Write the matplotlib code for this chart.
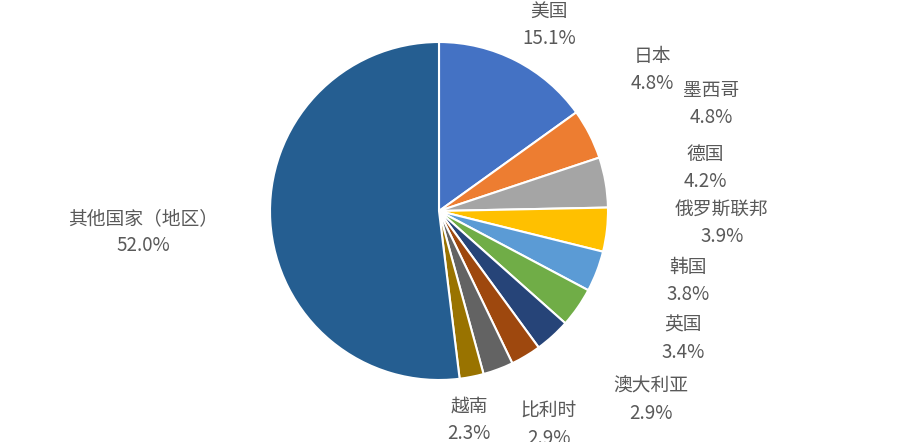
import matplotlib
matplotlib.use('Agg')
import matplotlib.pyplot as plt

plt.rcParams['font.family'] = ['Noto Sans CJK SC', 'DejaVu Sans']

# data (share, %)
countries = ['美国', '日本', '墨西哥', '德国', '俄罗斯联邦', '韩国', '英国',
             '澳大利亚', '比利时', '越南', '其他国家（地区）']
shares = [15.1, 4.8, 4.8, 4.2, 3.9, 3.8, 3.4, 2.9, 2.9, 2.3, 52.0]
colors = ['#4472C4', '#ED7D31', '#A5A5A5', '#FFC000', '#5B9BD5', '#70AD47',
          '#264478', '#9E480E', '#636363', '#997300', '#255E91']

# label centres in figure pixels (x, y from top), layout only
label_pos = [(549, 25), (652, 70), (711, 104), (705, 168), (722, 223),
             (688, 281), (683, 339), (651, 400), (549, 425), (469, 420),
             (143, 232)]

W, H = 902, 442
fig = plt.figure(figsize=(W / 100, H / 100), dpi=100)
ax = fig.add_axes([0, 0, 1, 1])

ax.pie(shares, colors=colors, startangle=90, counterclock=False,
       center=(439, H - 211), radius=169, frame=True,
       wedgeprops={'edgecolor': 'white', 'linewidth': 1.5})
ax.set_xlim(0, W)
ax.set_ylim(0, H)
ax.set_aspect('equal')
ax.axis('off')

for name, val, (px, py) in zip(countries, shares, label_pos):
    ax.text(px, H - py, f'{name}\n{val:.1f}%', ha='center', va='center',
            fontsize=13.5, color='#595959', linespacing=1.4)

fig.savefig('out.png', dpi=100, facecolor='white')
